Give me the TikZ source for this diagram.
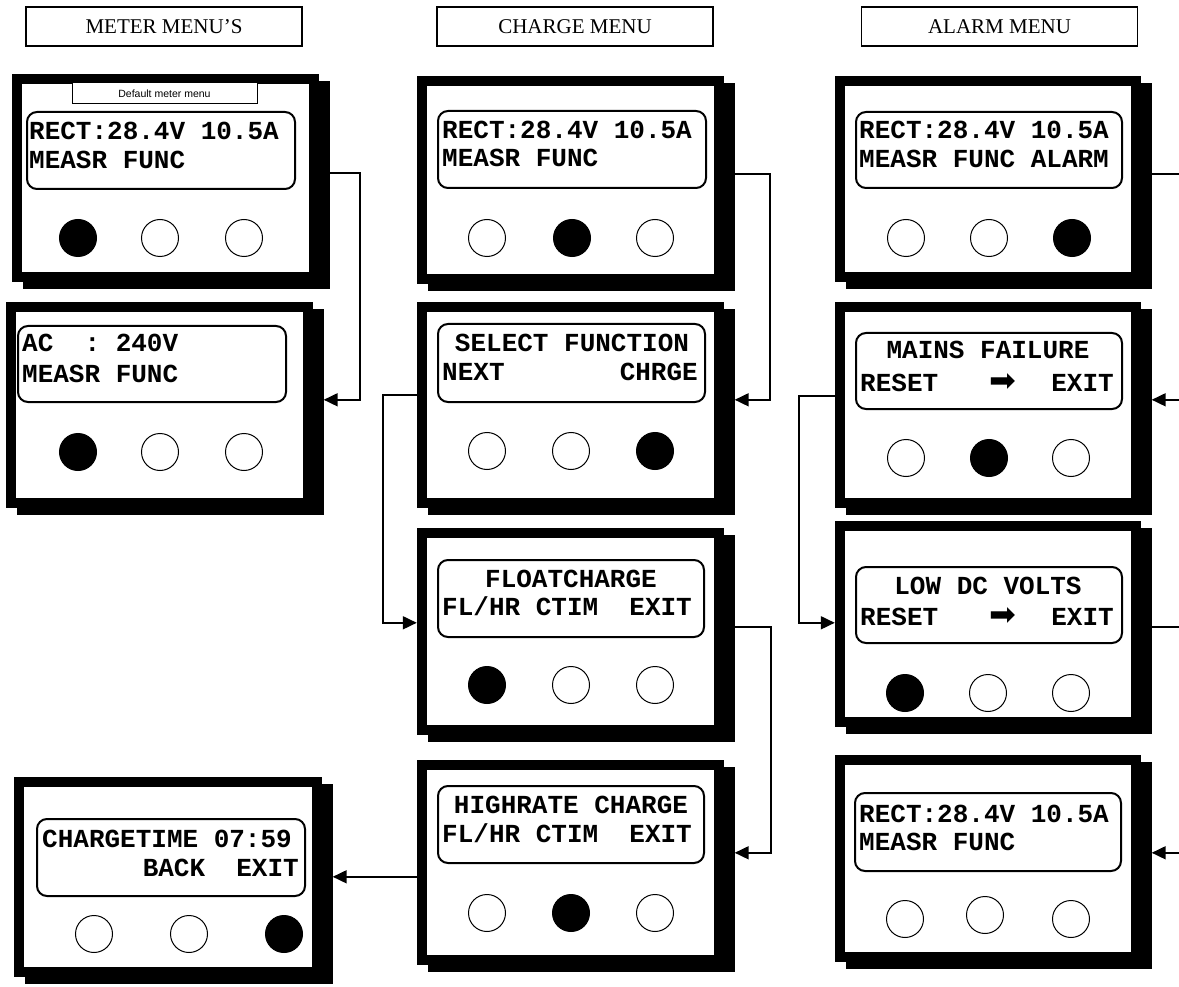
\documentclass[tikz,border=0pt]{standalone}
\usepackage{fontspec}
\setmainfont{Liberation Serif}
\setsansfont{Liberation Sans}
\setmonofont{Liberation Mono}
\newfontfamily\arrowfont{DejaVu Sans}
\usetikzlibrary{arrows.meta,calc,fit}
\tikzset{
 lcd/.style={inner sep=0pt, font={\ttfamily\bfseries\fontsize{26}{26}\selectfont}},
 hdr/.style={draw, line width=1.5pt, minimum width=276pt, minimum height=39pt, inner sep=0pt, font={\fontsize{21}{21}\selectfont}},
 scr/.style={draw, line width=2pt, rounded corners=10pt},
 knob/.style={draw, line width=1pt},
 conn/.style={line width=1.8pt, -{Triangle[length=14pt,width=13pt]}},
 frame/.style={inner sep=0pt},
 arw/.style={inner sep=0pt, font={\arrowfont\fontsize{32}{32}\selectfont}},
}
\newcommand\mpanel[5]{%
  \fill[black] (#2+10.5,#3+7) rectangle (#4+10.5,#5+7);
  \fill[black] (#2,#3) rectangle (#4,#5);
  \fill[white] (#2+10,#3+10) rectangle (#4-10,#5-10);
  \node[frame, fit={(#2,#3) (#4+10.5,#5+7)}] (#1) {};
}
\newcommand\mscreen[4]{\draw[scr] (#1,#2) rectangle (#3,#4);}
\newcommand\mknob[3]{\draw[knob, fill=#3] (#1,#2) circle[radius=18.5];}
\begin{document}
\begin{tikzpicture}[x=1pt,y=-1pt]
\useasboundingbox (0,0) rectangle (1179,987);
\clip (0,0) rectangle (1179,987);
\fill[white] (0,0) rectangle (1179,987);

% headers
\node[hdr] (hm) at (164,26.5) {METER MENU'S};
\node[hdr] (hc) at (575,26.5) {CHARGE MENU};
\node[hdr] (ha) at (999.5,26.5) {ALARM MENU};

% ---------- meter column ----------
\mpanel{m1}{12}{74}{319}{282}
\node[draw, fill=white, line width=1pt, minimum width=185pt, minimum height=21pt, inner sep=0pt,
      font={\sffamily\fontsize{10.5}{10.5}\selectfont}] (dm) at (164.5,93.5) {Default meter menu};
\mscreen{27}{112}{295}{189}
\node[lcd, anchor=base west] (m1a) at (29,140) {RECT:28.4V 10.5A};
\node[lcd, anchor=base west] (m1b) at (29,169) {MEASR FUNC};
\mknob{78}{238}{black}\mknob{160}{238}{white}\mknob{244}{238}{white}

\mpanel{m2}{6}{302}{313}{508}
\mscreen{18}{326}{286}{402}
\node[lcd, anchor=base west] (m2a) at (22,352) {AC\ \ :\ 240V};
\node[lcd, anchor=base west] (m2b) at (22,382) {MEASR FUNC};
\mknob{78}{452}{black}\mknob{160}{452}{white}\mknob{244}{452}{white}

\mpanel{m3}{14}{777}{322}{977}
\mscreen{37}{819}{305}{896}
\node[lcd, anchor=base west] (m3a) at (42,847) {CHARGETIME 07:59};
\node[lcd, anchor=base east] (m3b) at (299,876) {BACK\ \ EXIT};
\mknob{94}{934}{white}\mknob{189}{934}{white}\mknob{284}{934}{black}

% ---------- charge column ----------
\mpanel{c1}{417}{76}{724}{284}
\mscreen{438}{111}{706}{188}
\node[lcd, anchor=base west] (c1a) at (442,139) {RECT:28.4V 10.5A};
\node[lcd, anchor=base west] (c1b) at (442,167) {MEASR FUNC};
\mknob{487}{238}{white}\mknob{572}{238}{black}\mknob{655}{238}{white}

\mpanel{c2}{417}{302}{724}{508}
\mscreen{438}{324}{705}{402}
\node[lcd, anchor=base] (c2a) at (572,352) {SELECT FUNCTION};
\node[lcd, anchor=base west] (c2b) at (442,381) {NEXT};
\node[lcd, anchor=base east] (c2c) at (698,381) {CHRGE};
\mknob{487}{451}{white}\mknob{571}{451}{white}\mknob{655}{451}{black}

\mpanel{c3}{417}{528}{724}{735}
\mscreen{438}{560}{704}{637}
\node[lcd, anchor=base] (c3a) at (571,587) {FLOATCHARGE};
\node[lcd, anchor=base west] (c3b) at (442,615) {FL/HR CTIM\ \ EXIT};
\mknob{487}{685}{black}\mknob{571}{685}{white}\mknob{655}{685}{white}

\mpanel{c4}{417}{760}{724}{965}
\mscreen{438}{786}{704}{863}
\node[lcd, anchor=base] (c4a) at (571,813) {HIGHRATE CHARGE};
\node[lcd, anchor=base west] (c4b) at (442,842) {FL/HR CTIM\ \ EXIT};
\mknob{487}{913}{white}\mknob{571}{913}{black}\mknob{655}{913}{white}

% ---------- alarm column ----------
\mpanel{a1}{835}{76}{1141}{282}
\mscreen{856}{112}{1122}{188}
\node[lcd, anchor=base west] (a1a) at (859,139) {RECT:28.4V 10.5A};
\node[lcd, anchor=base west] (a1b) at (859,168) {MEASR FUNC ALARM};
\mknob{906}{238}{white}\mknob{989}{238}{white}\mknob{1072}{238}{black}

\mpanel{a2}{835}{302}{1141}{508}
\mscreen{856}{333}{1122}{409}
\node[lcd, anchor=base] (a2a) at (988,359) {MAINS FAILURE};
\node[lcd, anchor=base west] (a2b) at (860,391) {RESET};
\node[arw, anchor=base] (a2c) at (1003,391) {➡};
\node[lcd, anchor=base east] (a2d) at (1114,391) {EXIT};
\mknob{906}{458}{white}\mknob{989}{458}{black}\mknob{1071}{458}{white}

\mpanel{a3}{835}{521}{1141}{727}
\mscreen{856}{567}{1122}{643}
\node[lcd, anchor=base] (a3a) at (988,594) {LOW DC VOLTS};
\node[lcd, anchor=base west] (a3b) at (860,625) {RESET};
\node[arw, anchor=base] (a3c) at (1003,625) {➡};
\node[lcd, anchor=base east] (a3d) at (1114,625) {EXIT};
\mknob{905}{693}{black}\mknob{988}{693}{white}\mknob{1071}{693}{white}

\mpanel{a4}{835}{755}{1141}{962}
\mscreen{855}{793}{1121}{871}
\node[lcd, anchor=base west] (a4a) at (859,822) {RECT:28.4V 10.5A};
\node[lcd, anchor=base west] (a4b) at (859,850) {MEASR FUNC};
\mknob{905}{919}{white}\mknob{985}{915}{white}\mknob{1071}{919}{white}

% ---------- connectors ----------
\draw[conn] ($(m1.north east)+(0,99)$) -- ++(30,0) |- ($(m2.north east)+(0,98)$);
\draw[conn] ($(c1.north east)+(0,98)$) -- ++(35,0) |- ($(c2.north east)+(0,98)$);
\draw[conn] ($(c2.north west)+(0,93)$) -- ++(-34,0) |- ($(c3.north west)+(0,95)$);
\draw[conn] ($(c3.north east)+(0,99)$) -- ++(36,0) |- ($(c4.north east)+(0,93)$);
\draw[conn] ($(c4.north west)+(0,117)$) -- ($(m3.north east)+(0,100)$);
\draw[conn] ($(a1.north east)+(0,98)$) -- ++(40,0) |- ($(a2.north east)+(0,98)$);
\draw[conn] ($(a2.north west)+(0,94)$) -- ++(-36,0) |- ($(a3.north west)+(0,102)$);
\draw[conn] ($(a3.north east)+(0,106)$) -- ++(40,0) |- ($(a4.north east)+(0,98)$);
\end{tikzpicture}
\end{document}
